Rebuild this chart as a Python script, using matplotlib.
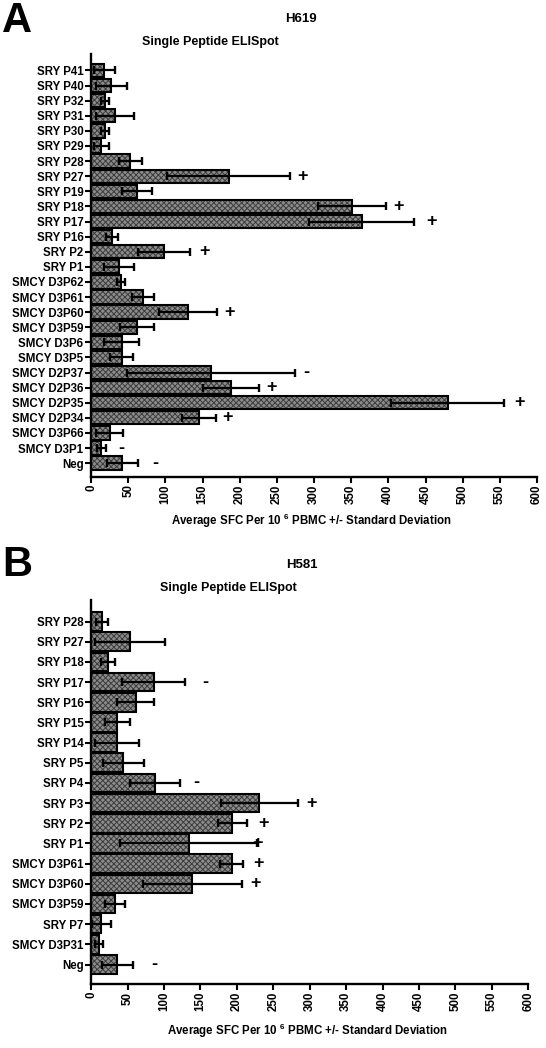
import matplotlib
matplotlib.use("Agg")
import matplotlib.pyplot as plt
import numpy as np

plt.rcParams['font.family'] = ['Liberation Sans', 'DejaVu Sans']
plt.rcParams['font.weight'] = 'bold'
plt.rcParams['mathtext.fontset'] = 'custom'
plt.rcParams['mathtext.rm'] = 'Liberation Sans:bold'
plt.rcParams['mathtext.bf'] = 'Liberation Sans:bold'
plt.rcParams['mathtext.default'] = 'bf'
plt.rcParams['hatch.linewidth'] = 0.7

# panel A - H619
top_cats = ["SRY P41", "SRY P40", "SRY P32", "SRY P31", "SRY P30", "SRY P29",
            "SRY P28", "SRY P27", "SRY P19", "SRY P18", "SRY P17", "SRY P16",
            "SRY P2", "SRY P1", "SMCY D3P62", "SMCY D3P61", "SMCY D3P60",
            "SMCY D3P59", "SMCY D3P6", "SMCY D3P5", "SMCY D2P37", "SMCY D2P36",
            "SMCY D2P35", "SMCY D2P34", "SMCY D3P66", "SMCY D3P1", "Neg"]
top_mean = [18, 27, 19, 32, 19, 14, 53, 185, 62, 351, 364, 28, 98, 38,
            40, 70, 130, 62, 41, 41, 162, 188, 480, 145, 25, 14, 42]
top_sd = [14, 21, 5.5, 26, 5, 10, 15, 83, 20, 46, 71, 8, 35, 20,
          5, 15, 39, 23, 24, 16, 113, 38, 76, 23, 18, 6, 21]
top_sign = ["", "", "", "", "", "", "", "+", "", "+", "+", "", "+", "",
            "", "", "+", "", "", "", "-", "+", "+", "+", "", "-", "-"]
top_sign_x = [0, 0, 0, 0, 0, 0, 0, 284, 0, 413, 458, 0, 152, 0,
              0, 0, 186, 0, 0, 0, 289, 243, 576, 184, 0, 41, 86]

# panel B - H581
bot_cats = ["SRY P28", "SRY P27", "SRY P18", "SRY P17", "SRY P16", "SRY P15",
            "SRY P14", "SRY P5", "SRY P4", "SRY P3", "SRY P2", "SRY P1",
            "SMCY D3P61", "SMCY D3P60", "SMCY D3P59", "SRY P7", "SMCY D3P31", "Neg"]
bot_mean = [15, 54, 23, 86, 61, 36, 36, 44, 88, 231, 194, 134, 193, 139, 33, 14, 11, 36]
bot_sd = [8, 48, 10, 43, 25, 17, 30, 28, 34, 53, 20, 94, 16, 68, 14, 13, 5, 21]
bot_sign = ["", "", "", "-", "", "", "", "", "-", "+", "+", "+", "+", "+", "", "", "", "-"]
bot_sign_x = [0, 0, 0, 157, 0, 0, 0, 0, 145, 303, 237, 228, 230, 226, 0, 0, 0, 87]

xticks = np.arange(0, 601, 50)

fig = plt.figure(figsize=(5.46, 10.48), dpi=100)


def panel(ax, cats, mean, sd, sign, sign_x, h, pad_top, pad_bot):
    y = np.arange(len(cats))
    ax.barh(y, mean, height=h, color='#8c8c8c', edgecolor='#3c3c3c',
            hatch='xxxxxx', linewidth=0, zorder=2)
    ax.barh(y, mean, height=h, fill=False, edgecolor='black', linewidth=1.5, zorder=3)
    ax.errorbar(mean, y, xerr=sd, fmt='none', ecolor='black', elinewidth=1.6,
                capsize=3.2, capthick=1.7, zorder=4)
    for yi, s, sx in zip(y, sign, sign_x):
        if s:
            ax.text(sx, yi, s, ha='center', va='center', fontsize=13,
                    fontweight='bold', zorder=5)
    ax.set_yticks(y)
    ax.set_yticklabels(cats, fontsize=8.3)
    ax.set_ylim(len(cats) - 1 + pad_bot, -pad_top)
    ax.set_xlim(0, 600)
    ax.set_xticks(xticks)
    ax.set_xticklabels([str(t) for t in xticks], rotation=90, fontsize=8.3)
    for side in ['top', 'right']:
        ax.spines[side].set_visible(False)
    for side in ['left', 'bottom']:
        ax.spines[side].set_linewidth(1.7)
    ax.tick_params(axis='both', width=1.5, length=4, pad=1.5)


ax1 = fig.add_axes([0.1668, 0.5451, 0.8167, 0.4035])
panel(ax1, top_cats, top_mean, top_sd, top_sign, top_sign_x, 0.88, 1.1, 0.9)
ax2 = fig.add_axes([0.1668, 0.0608, 0.8007, 0.3667])
panel(ax2, bot_cats, bot_mean, bot_sd, bot_sign, bot_sign_x, 0.92, 1.07, 0.98)

xlab = "Average SFC Per 10 $^{6}$ PBMC +/- Standard Deviation"

fig.text(0.004, 0.999, "A", fontsize=30, fontweight='bold', va='top', ha='left')
fig.text(0.551, 0.9819, "H619", fontsize=9.5, fontweight='bold', ha='center', va='center')
fig.text(0.385, 0.9595, "Single Peptide ELISpot", fontsize=9, fontweight='bold',
         ha='center', va='center')
fig.text(0.5696, 0.5029, xlab, fontsize=8.3, fontweight='bold', ha='center', va='center')

fig.text(0.004, 0.480, "B", fontsize=30, fontweight='bold', va='top', ha='left')
fig.text(0.5526, 0.4609, "H581", fontsize=9.5, fontweight='bold', ha='center', va='center')
fig.text(0.4189, 0.4391, "Single Peptide ELISpot", fontsize=9, fontweight='bold',
         ha='center', va='center')
fig.text(0.5623, 0.0162, xlab, fontsize=8.3, fontweight='bold', ha='center', va='center')

fig.savefig("out.png", dpi=100)
